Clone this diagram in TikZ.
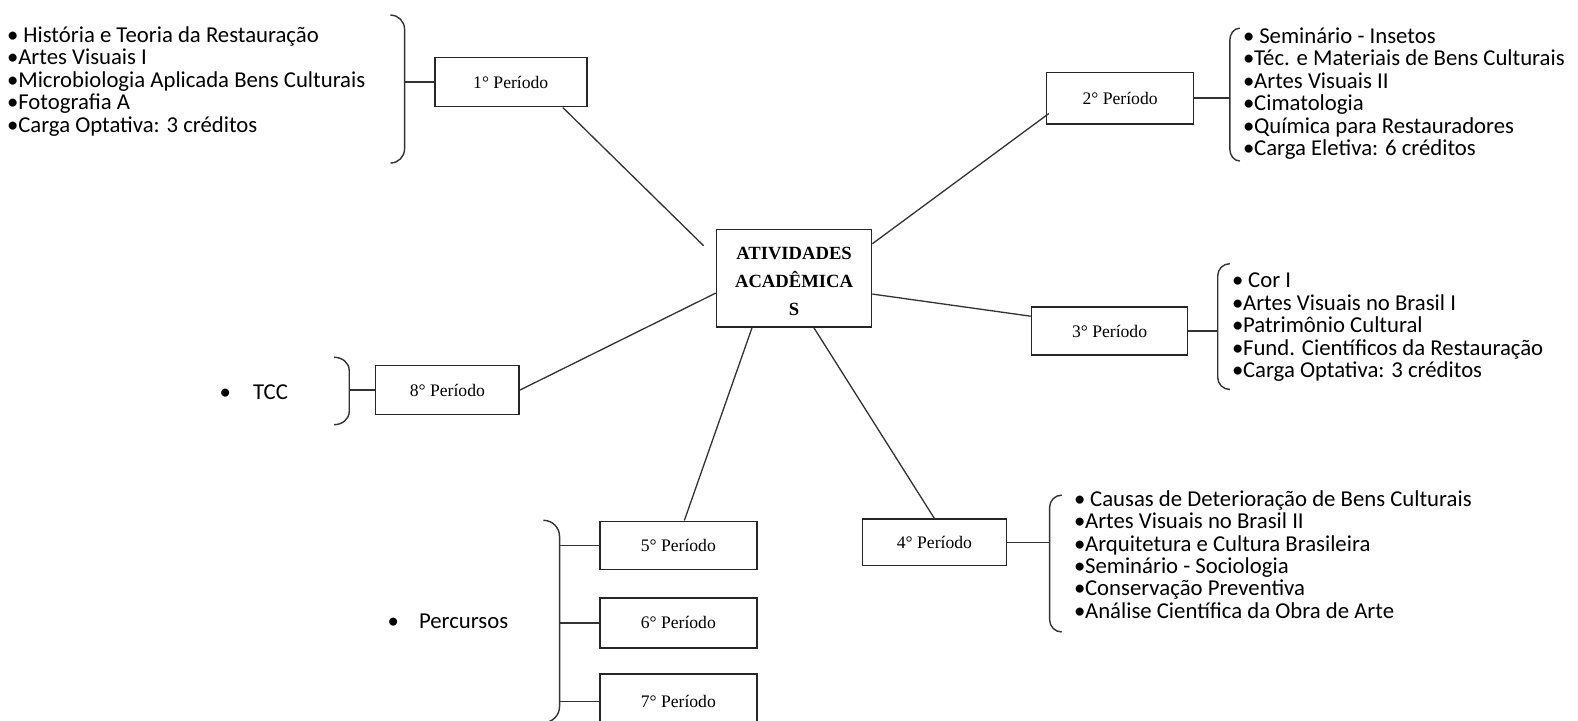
\documentclass[tikz,border=0pt]{standalone}
\usepackage{fontspec}
\setmainfont{Liberation Serif}
\newfontfamily\lstfnt{Carlito}
\usetikzlibrary{calc}
\newcommand\bul{\makebox[10pt][l]{\hspace{-1pt}•}}
\begin{document}
\begin{tikzpicture}[x=1pt,y=-1pt,
  per/.style={draw=black!85, line width=1.6pt, inner sep=0, font=\fontsize{17.5}{20}\selectfont},
  ctr/.style={draw=black!85, line width=1.6pt, inner sep=0},
  ctrtxt/.style={inner sep=0, align=center, font=\bfseries\fontsize{18.5}{28}\selectfont},
  lst/.style={anchor=base west, align=left, inner sep=0, font=\lstfnt\fontsize{22.6}{22.3}\selectfont},
  conn/.style={draw=black!80, line width=1.3pt},
  brc/.style={draw=black!80, line width=1.4pt}]
\useasboundingbox (0,0) rectangle (1568,716);

% boxes
\node[ctr, minimum width=154, minimum height=97] (C) at (789,276.5) {};
\node[ctrtxt] (Ct) at ($(C.center)+(0,3)$) {ATIVIDADES\\ACADÊMICA\\S};
\node[per, minimum width=151, minimum height=49] (b1) at (507.5,81.5) {1° Período};
\node[per, minimum width=146, minimum height=51] (b2) at (1113,97.5) {2° Período};
\node[per, minimum width=155, minimum height=48] (b3) at (1102.5,329) {3° Período};
\node[per, minimum width=143, minimum height=46] (b4) at (928.5,539) {4° Período};
\node[per, minimum width=156, minimum height=48] (b5) at (674,542) {5° Período};
\node[per, minimum width=156, minimum height=50] (b6) at (674,619) {6° Período};
\node[per, minimum width=156, minimum height=54] (b7) at (674,697) {7° Período};
\node[per, minimum width=143, minimum height=49] (b8) at (444.5,387.5) {8° Período};

% lists (anchor = baseline of last line)
\node[lst] (l1) at (8,131.2) {\bul\ História e Teoria da Restauração\\\bul Artes Visuais I\\\bul Microbiologia Aplicada Bens Culturais\\\bul Fotografia A\\\bul Carga Optativa: 3 créditos};
\node[lst] (l2) at (1236,154.5) {\bul\ Seminário - Insetos\\\bul Téc. e Materiais de Bens Culturais\\\bul Artes Visuais II\\\bul Cimatologia\\\bul Química para Restauradores\\\bul Carga Eletiva: 6 créditos};
\node[lst] (l3) at (1225,375.2) {\bul\ Cor I\\\bul Artes Visuais no Brasil I\\\bul Patrimônio Cultural\\\bul Fund. Científicos da Restauração\\\bul Carga Optativa: 3 créditos};
\node[lst] (l4) at (1068,614.5) {\bul\ Causas de Deterioração de Bens Culturais\\\bul Artes Visuais no Brasil II\\\bul Arquitetura e Cultura Brasileira\\\bul Seminário - Sociologia\\\bul Conservação Preventiva\\\bul Análise Científica da Obra de Arte};
\node[lst] (tcc) at (218,397) {•\hspace{22pt}TCC};
\node[lst] (perc) at (385,625) {•\hspace{20pt}Percursos};

% braces
\draw[brc] (388,15) to[out=0,in=90] (402,29) -- (402,148) to[out=-90,in=0] (388,162);
\draw[brc] (1232,28) to[out=180,in=90] (1222,40) -- (1222,148) to[out=-90,in=180] (1232,160);
\draw[brc] (1222,262) to[out=180,in=90] (1210,274) -- (1210,375) to[out=-90,in=180] (1222,387);
\draw[brc] (332,355) to[out=0,in=90] (347,368) -- (347,409) to[out=-90,in=0] (332,422);
\draw[brc] (1055,492) to[out=180,in=90] (1043,504) -- (1043,616) to[out=-90,in=180] (1055,628);
\draw[brc] (540,517) to[out=0,in=90] (556,533) -- (556,702) to[out=-90,in=0] (540,718);

\coordinate (t1) at (402,81.5);
\coordinate (t2) at (1222,97.5);
\coordinate (t3) at (1210,329);
\coordinate (t8) at (347,387.5);
\coordinate (t4) at (1043,539);
\coordinate (t5) at (556,542);
\coordinate (t6) at (556,619);
\coordinate (t7) at (556,697);

\draw[conn] (t1) -- (b1.west);
\draw[conn] (b2.east) -- (t2);
\draw[conn] (b3.east) -- (t3);
\draw[conn] (t8) -- (b8.west);
\draw[conn] (b4.east) -- (t4);
\draw[conn] (t5) -- (b5.west);
\draw[conn] (t6) -- (b6.west);
\draw[conn] (t7) -- (b7.west);

% connectors to centre
\draw[conn] ($(b1.south west)+(128,0)$) -- ($(C.north west)+(-12,17)$);
\draw[conn] ($(b2.south west)+(3,-11)$) -- ($(C.north east)+(0,15)$);
\draw[conn] ($(C.north east)+(0,65)$) -- ($(b3.north west)+(0,10)$);
\draw[conn] (b8.east) -- ($(C.north west)+(0,64)$);
\draw[conn] (b4.north) -- ($(C.south east)+(-58,0)$);
\draw[conn] ($(b5.north)+(6,0)$) -- ($(C.south west)+(36,0)$);
\end{tikzpicture}
\end{document}
